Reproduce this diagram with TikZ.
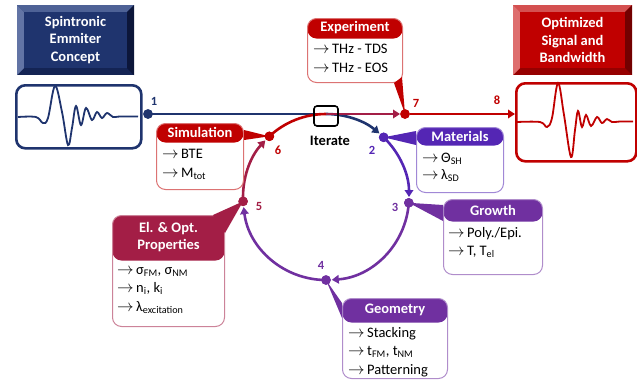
\documentclass[tikz,border=0pt]{standalone}
\usepackage{fontspec}
\setmainfont{Carlito}
\usetikzlibrary{arrows.meta}

\definecolor{navy}{RGB}{31,52,110}
\definecolor{navylt}{RGB}{78,98,150}
\definecolor{navylt2}{RGB}{98,116,165}
\definecolor{navydk}{RGB}{20,36,84}
\definecolor{navydk2}{RGB}{12,22,58}
\definecolor{bviolet}{RGB}{84,38,180}
\definecolor{purp}{RGB}{112,48,160}
\definecolor{crim}{RGB}{163,30,70}
\definecolor{dred}{RGB}{192,0,0}
\definecolor{redlt}{RGB}{212,80,80}
\definecolor{redlt2}{RGB}{222,110,110}
\definecolor{reddk}{RGB}{150,0,0}
\definecolor{reddk2}{RGB}{115,0,0}

\newcommand{\itemarrow}{\scalebox{1.15}{$\rightarrow$}\,}

\tikzset{
	flow/.style={line width=2.6pt},
	tip/.style={-{Triangle[length=7pt,width=8.5pt]}},
	dot/.style={circle,fill,inner sep=0pt,minimum size=9.5pt},
	num/.style={font=\fontsize{12.5}{12.5}\selectfont\bfseries},
	callbox/.style={draw=#1!55,line width=1pt,rounded corners=9pt,fill=white,inner sep=0pt,anchor=north west},
	header/.style 2 args={path picture={\fill[#1] (path picture bounding box.north west) rectangle ([yshift=-#2]path picture bounding box.north east);}},
	headtext/.style={text=white,font=\fontsize{14.5}{17}\selectfont\bfseries,align=center,inner sep=0pt},
	bodytext/.style={anchor=north west,inner sep=0pt,align=left,font=\fontsize{14.5}{18.5}\selectfont},
	signal/.style={line width=2.6pt,rounded corners=9pt,fill=white,anchor=north west},
	wave/.style={line width=1.8pt},
	titletext/.style={text=white,font=\fontsize{14.5}{17.5}\selectfont\bfseries,align=center}
}

\begin{document}
\begin{tikzpicture}[x=1pt,y=-1pt]
	\useasboundingbox (0,0) rectangle (637,384);

	\node[signal,draw=navy,minimum width=125,minimum height=63] (lsig) at (15,84) {};
	\node[signal,draw=dred,minimum width=120,minimum height=78] (rsig) at (515,82) {};
	\draw[wave,navy] plot[smooth,tension=0.6] coordinates {(18,117) (36,117) (43,123) (48,118) (55,86) (62,112) (68,145) (72,128) (76,106) (81,125) (86,108) (92,120) (97,112) (102,118) (107,113) (113,117) (120,116.5) (138,116.5)};
	\draw[wave,dred] plot[smooth,tension=0.6] coordinates {(517,122) (540,122) (547,127) (552,118) (558,83) (564,115) (571,157) (575,130) (578,111) (582,127) (586,115) (591,126) (597,117) (602,123) (607,119) (612,122) (620,121.5) (633,121.5)};

	\fill[navydk] (17,5) rectangle (134,75);
	\fill[navylt] (17,5) -- (134,5) -- (127,12) -- (24,12) -- cycle;
	\fill[navylt2] (17,5) -- (24,12) -- (24,68) -- (17,75) -- cycle;
	\fill[navydk2] (134,5) -- (134,75) -- (127,68) -- (127,12) -- cycle;
	\fill[navy] (24,12) rectangle (127,68);
	\node[titletext] (concept) at (75.5,40) {Spintronic\\Emmiter\\Concept};

	\fill[reddk] (513,5) rectangle (632,75);
	\fill[redlt] (513,5) -- (632,5) -- (625,12) -- (520,12) -- cycle;
	\fill[redlt2] (513,5) -- (520,12) -- (520,68) -- (513,75) -- cycle;
	\fill[reddk2] (632,5) -- (632,75) -- (625,68) -- (625,12) -- cycle;
	\fill[dred] (520,12) rectangle (625,68);
	\node[titletext] (optimized) at (572.5,40) {Optimized\\Signal and\\Bandwidth};

	\coordinate (c) at (326,197);
	\coordinate (top) at (326,114);
	\node[dot,navy] (p1) at (148,114) {};
	\path (c) ++(-46:83) node[dot,bviolet] (p2) {};
	\path (c) ++(4:83) node[dot,purp] (p3) {};
	\path (c) ++(90:83) node[dot,purp] (p4) {};
	\path (c) ++(177:83) node[dot,crim] (p5) {};
	\path (c) ++(227:83) node[dot,dred] (p6) {};
	\node[dot,dred] (p7) at (405,114) {};

	\draw[flow,navy] (p1.center) -- (top);
	\draw[flow,navy,tip] (top) arc[start angle=-90,end angle=-50,radius=83];
	\draw[flow,bviolet,tip] (p2.center) arc[start angle=-46,end angle=0,radius=83];
	\draw[flow,purp,tip] (p3.center) arc[start angle=4,end angle=86,radius=83];
	\draw[flow,purp,tip] (p4.center) arc[start angle=90,end angle=173,radius=83];
	\draw[flow,crim,tip] (p5.center) arc[start angle=177,end angle=223,radius=83];
	\draw[flow,dred] (p6.center) arc[start angle=227,end angle=270,radius=83];
	\draw[flow,crim,tip] (top) -- (p7);
	\draw[flow,dred,tip] (p7) -- (p7 -| rsig.west);

	\node[callbox=dred,header={dred}{20pt},minimum width=95,minimum height=64] (expbox) at (307,18) {};
	\node[headtext] (exphead) at ([yshift=-10pt]expbox.north) {Experiment};
	\node[bodytext] (exptext) at ([xshift=6pt,yshift=-26pt]expbox.north west) {\itemarrow THz - TDS\\\itemarrow THz - EOS};
	\fill[dred] ([xshift=-9pt]expbox.south east) -- ([xshift=-1pt,yshift=6pt]expbox.south east) -- (p7.center) -- cycle;

	\node[callbox=dred,header={dred}{19pt},minimum width=87,minimum height=66] (simbox) at (156,123) {};
	\node[headtext] (simhead) at ([yshift=-9.5pt]simbox.north) {Simulation};
	\node[bodytext] (simtext) at ([xshift=6pt,yshift=-26pt]simbox.north west) {\itemarrow BTE\\\itemarrow M\textsubscript{tot}};
	\fill[dred] ([yshift=-7pt]simbox.north east) -- ([yshift=-17pt]simbox.north east) -- (p6.center) -- cycle;

	\node[callbox=bviolet,header={bviolet}{18pt},minimum width=87,minimum height=65] (matbox) at (416,127) {};
	\node[headtext] (mathead) at ([yshift=-9pt]matbox.north) {Materials};
	\node[bodytext,font=\fontsize{14.5}{17}\selectfont] (mattext) at ([xshift=6pt,yshift=-26pt]matbox.north west) {\itemarrow Θ\textsubscript{SH}\\\itemarrow λ\textsubscript{SD}};
	\fill[bviolet] ([yshift=-4pt]matbox.north west) -- ([yshift=-18pt]matbox.north west) -- (p2.center) -- cycle;

	\node[callbox=purp,header={purp}{22pt},minimum width=99,minimum height=75] (growbox) at (443,199) {};
	\node[headtext] (growhead) at ([yshift=-11pt]growbox.north) {Growth};
	\node[bodytext] (growtext) at ([xshift=5pt,yshift=-28pt]growbox.north west) {\itemarrow Poly./Epi.\\\itemarrow T, T\textsubscript{el}};
	\fill[purp] ([yshift=-6pt]growbox.north west) -- ([yshift=-22pt]growbox.north west) -- (p3.center) -- cycle;

	\node[callbox=purp,header={purp}{24pt},minimum width=105,minimum height=80] (geobox) at (342,298) {};
	\node[headtext] (geohead) at ([yshift=-12pt]geobox.north) {Geometry};
	\node[bodytext] (geotext) at ([xshift=6pt,yshift=-29pt]geobox.north west) {\itemarrow Stacking\\\itemarrow t\textsubscript{FM}, t\textsubscript{NM}\\\itemarrow Patterning};
	\fill[purp] ([yshift=-5pt]geobox.north west) -- ([yshift=-20pt]geobox.north west) -- (p4.center) -- cycle;

	\node[callbox=crim,header={crim}{45pt},minimum width=112,minimum height=111] (elbox) at (112,215) {};
	\node[headtext] (elhead) at ([yshift=-22.5pt]elbox.north) {El. \& Opt.\\Properties};
	\node[bodytext] (eltext) at ([xshift=5pt,yshift=-52pt]elbox.north west) {\itemarrow σ\textsubscript{FM}, σ\textsubscript{NM}\\\itemarrow n\textsubscript{i}, k\textsubscript{i}\\\itemarrow λ\textsubscript{excitation}};
	\fill[crim] ([xshift=-12pt]elbox.north east) -- ([yshift=-18pt]elbox.north east) -- (p5.center) -- cycle;

	\node[dot,navy] at (p1) {};
	\node[dot,bviolet] at (p2) {};
	\node[dot,purp] at (p3) {};
	\node[dot,purp] at (p4) {};
	\node[dot,crim] at (p5) {};
	\node[dot,dred] at (p6) {};
	\node[dot,dred] at (p7) {};

	\node[draw,line width=1.6pt,rounded corners=3pt,minimum width=24,minimum height=20] (iter) at (326,116) {};
	\node[font=\fontsize{14.5}{14.5}\selectfont\bfseries] (iterlbl) at (330,141) {Iterate};

	\node[num,navy] (n1) at (154,101) {1};
	\node[num,bviolet] (n2) at (372,150) {2};
	\node[num,purp] (n3) at (395,207) {3};
	\node[num,purp] (n4) at (321,265) {4};
	\node[num,crim] (n5) at (259,206) {5};
	\node[num,dred] (n6) at (278,150) {6};
	\node[num,dred] (n7) at (416,103) {7};
	\node[num,dred] (n8) at (497,100) {8};
\end{tikzpicture}
\end{document}
